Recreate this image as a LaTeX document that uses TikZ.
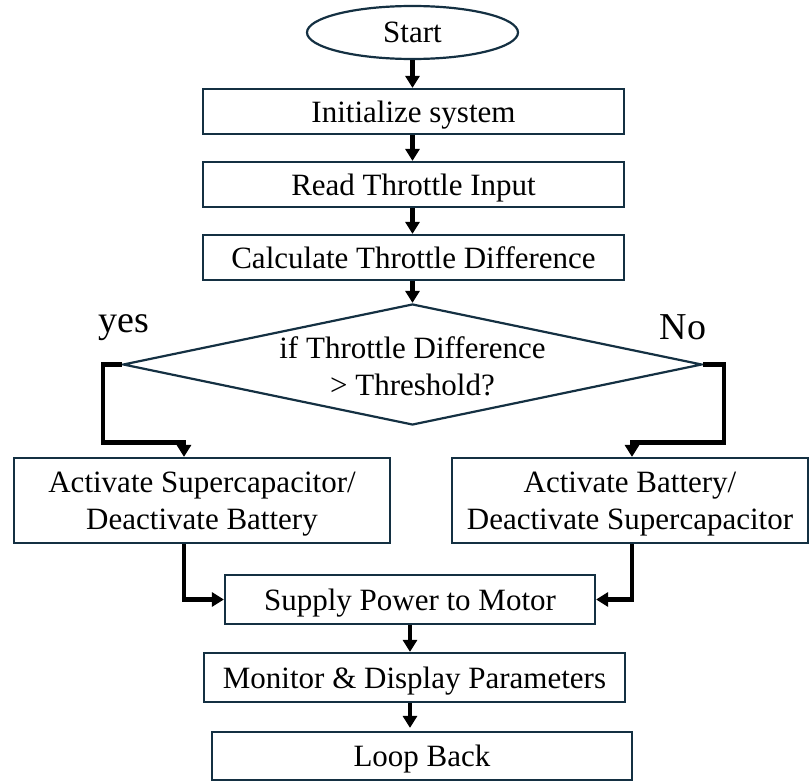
\documentclass[tikz,border=0pt]{standalone}
\usepackage{fontspec}
\setmainfont{Liberation Serif}
\usetikzlibrary{calc,shapes.geometric,positioning,arrows.meta}
\definecolor{boxline}{RGB}{20,48,66}

\tikzset{
	procbox/.style={draw=boxline, line width=1.1pt, inner sep=0pt, align=center, text depth=0pt, font=\fontsize{15.5}{18.5}\selectfont},
	flow/.style={-{Triangle[width=7pt, length=6pt]}, line width=2.1pt},
	txt/.style={inner sep=0pt, align=center, text depth=0pt, font=\fontsize{15.5}{18.5}\selectfont},
	branchtxt/.style={inner sep=0pt, font=\fontsize{19}{22}\selectfont}
}

\begin{document}
\begin{tikzpicture}[x=0.5pt, y=-0.5pt]
					\useasboundingbox (0, 0) rectangle (811, 781);
					\node[procbox, ellipse, minimum width=105.5pt, minimum height=26.5pt] (start) at (412.5, 32.5) {Start};
					\node[procbox, minimum width=210.5pt, minimum height=22.5pt] (init) at (413.5, 111.5) {Initialize system};
					\node[procbox, minimum width=210.5pt, minimum height=22.5pt] (read) at (413.5, 184.5) {Read Throttle Input};
					\node[procbox, minimum width=210.5pt, minimum height=22.5pt] (calc) at (413.5, 257.5) {Calculate Throttle Difference};
					\node[procbox, diamond, minimum width=289.5pt, minimum height=60.5pt] (cond) at (412.5, 364.5) {};
					\node[txt] (condtext) at (412.5, 366) {if Throttle Difference\\ {>} Threshold?};
					\node[branchtxt] (yes) at (124, 328) {yes};
					\node[branchtxt] (no) at (683, 327) {No};
					\node[procbox, minimum width=188pt, minimum height=42.5pt] (sup) at (202, 500.5) {Activate Supercapacitor/\\ Deactivate Battery};
					\node[procbox, minimum width=178pt, minimum height=42.5pt] (bat) at (630, 500.5) {Activate Battery/\\ Deactivate Supercapacitor};
					\node[procbox, minimum width=185pt, minimum height=24.5pt] (supply) at (410, 599.5) {Supply Power to Motor};
					\node[procbox, minimum width=210.5pt, minimum height=24.5pt] (monitor) at (414.5, 677.5) {Monitor \& Display Parameters};
					\node[procbox, minimum width=210pt, minimum height=24pt] (loop) at (422, 756) {Loop Back};

					% main column
					\draw[flow] (start.south) -- (start.south |- init.north);
					\draw[flow] (start.south |- init.south) -- (start.south |- read.north);
					\draw[flow] (start.south |- read.south) -- (start.south |- calc.north);
					\draw[flow] (start.south |- calc.south) -- (cond.north);

					% branches
					\draw[flow] (cond.west) -- ++(-19, 0) -- ++(0, 78) -| ($(sup.north) + (-18, 0)$);
					\draw[flow] (cond.east) -- ++(21, 0) -- ++(0, 78) -| ($(bat.north) + (2, 0)$);
					\draw[flow] ($(sup.south) + (-18, 0)$) |- (supply.west);
					\draw[flow] ($(bat.south) + (2, 0)$) |- (supply.east);

					\draw[flow] (supply.south) -- (supply.south |- monitor.north);
					\draw[flow] (supply.south |- monitor.south) -- ($(supply.south |- loop.north) + (0, -3)$);
				\end{tikzpicture}
\end{document}
